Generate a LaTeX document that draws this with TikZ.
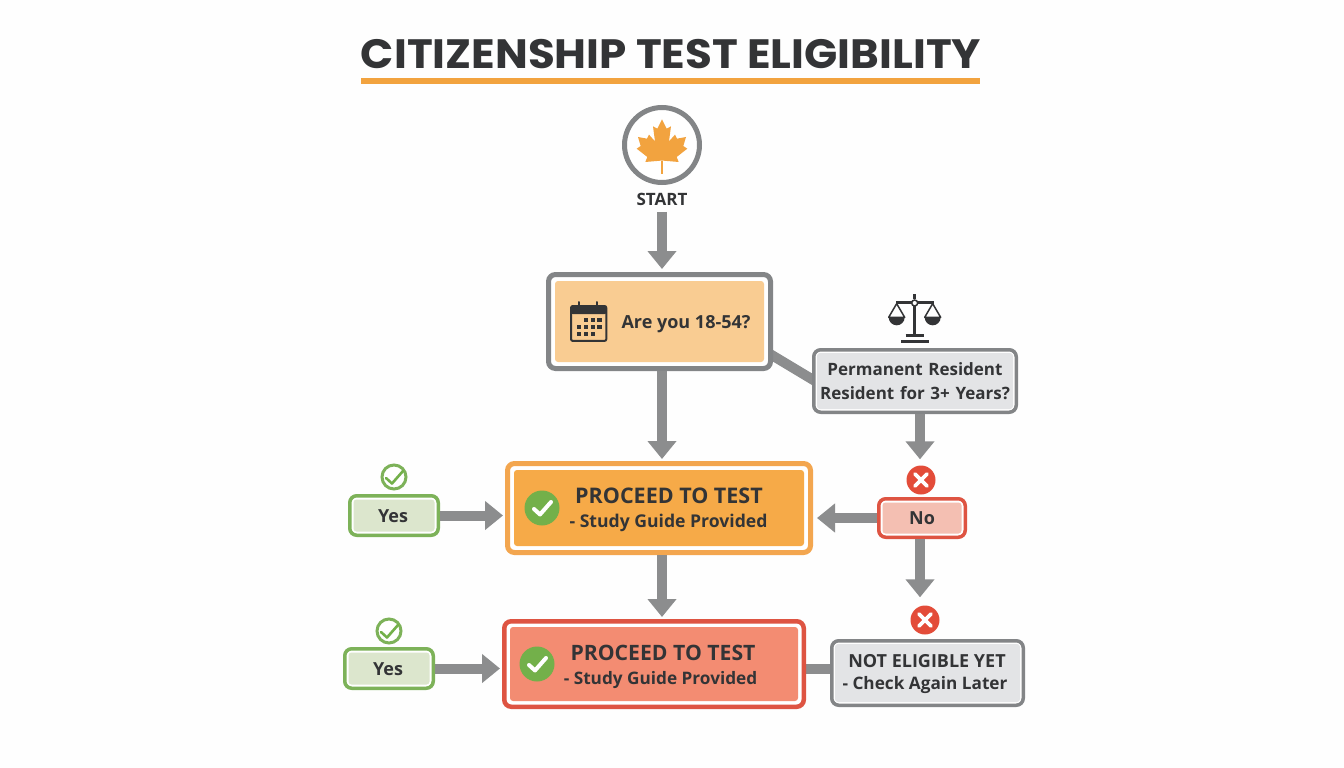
\documentclass[tikz,border=0pt]{standalone}
\usepackage{fontspec}
\setmainfont{Open Sans}
\newfontfamily\titlefont{Poppins}
\usetikzlibrary{arrows.meta,calc,backgrounds}
\definecolor{inkc}{HTML}{333436}
\definecolor{grayb}{HTML}{838587}
\definecolor{arrowc}{HTML}{8C8D8E}
\definecolor{orangec}{HTML}{F2A33F}
\definecolor{orangeb}{HTML}{F3A64F}
\definecolor{orangef}{HTML}{F6AA48}
\definecolor{paleor}{HTML}{F9CC92}
\definecolor{redb}{HTML}{DE5442}
\definecolor{redf}{HTML}{F38C72}
\definecolor{redc}{HTML}{E34C39}
\definecolor{palered}{HTML}{F4BFB2}
\definecolor{greenb}{HTML}{7DB259}
\definecolor{greenc}{HTML}{73B04A}
\definecolor{palegr}{HTML}{DCE6CD}
\definecolor{palegy}{HTML}{E3E4E6}
\tikzset{
  outerbox/.style={draw,fill=white,rounded corners=7pt,inner sep=0pt},
  innerbox/.style={rounded corners=3pt,inner sep=0pt},
  txt/.style={text=inkc,font=\bfseries\fontsize{#1}{#1}\selectfont,inner sep=0pt,align=center},
  conn/.style={draw=arrowc,line width=10pt,-{Triangle[length=18pt,width=28pt]}},
  plainconn/.style={draw=arrowc,line width=10pt},
  badge/.style={circle,inner sep=0pt,minimum size=#1},
}
% name x1 y1 x2 y2 linewidth inset border fill
\newcommand{\dbox}[9]{%
  \pgfmathsetmacro{\bw}{#4-#2-#6}\pgfmathsetmacro{\bh}{#5-#3-#6}%
  \pgfmathsetmacro{\biw}{#4-#2-2*#7}\pgfmathsetmacro{\bih}{#5-#3-2*#7}%
  \node[outerbox,draw=#8,line width=#6pt,minimum width=\bw pt,minimum height=\bh pt] (#1) at ({(#2+#4)/2},{(#3+#5)/2}) {};
  \node[innerbox,fill=#9,minimum width=\biw pt,minimum height=\bih pt] (#1-in) at (#1.center) {};
}
\newcommand{\checkmk}[3]{\draw[#2,line width=#3pt,line cap=round,line join=round] ($(#1)+(-8,1)$) -- ($(#1)+(-2,6.5)$) -- ($(#1)+(9,-6)$);}
\newcommand{\crossmk}[1]{\draw[white,line width=3.6pt,line cap=round] ($(#1)+(-6,-6)$) -- ($(#1)+(6,6)$) ($(#1)+(6,-6)$) -- ($(#1)+(-6,6)$);}
\begin{document}
\begin{tikzpicture}[x=1pt,y=-1pt]
\useasboundingbox (0,0) rectangle (1344,768);
\begin{scope}[on background layer]
\fill[white!99!gray] (0,0) rectangle (1344,768);
\end{scope}
% title
\node[font=\titlefont\bfseries\fontsize{41}{44}\selectfont,text=inkc,inner sep=0pt] (title) at (671,54) {\scalebox{1.064}[1]{CITIZENSHIP TEST ELIGIBILITY}};
\coordinate (ruleL) at (361,81); \coordinate (ruleR) at (980,81);
\draw[orangec,line width=5pt] (ruleL) -- (ruleR);
% start
\node[circle,draw=grayb,fill=white,line width=5pt,minimum size=75pt,inner sep=0pt] (start) at (662,145) {};
\begin{scope}[shift={(630,112)},x=0.3333pt,y=-0.3333pt]
\fill[orangec] (96,22)--(110,50)--(123,43)--(117,88)--(135,68)--(141,80)--(168,75)--(160,102)--(172,110)--(140,135)--(146,150)--(100,146)--(92,146)--(46,150)--(52,135)--(20,110)--(32,102)--(24,75)--(51,80)--(57,68)--(75,88)--(69,43)--(82,50)--cycle;
\draw[orangec,line width=1.5pt] (96,146)--(96,186);
\end{scope}
\node[txt=17] (startlbl) at (662,199.5) {START};
\coordinate (spine) at (662,400);
% boxes
\dbox{q1}{546}{272}{773}{371}{5}{9}{grayb}{paleor}
\dbox{q2}{812}{348}{1018}{414}{3.5}{5}{grayb}{palegy}
\dbox{p1}{505}{461}{813}{555}{5}{9}{orangeb}{orangef}
\dbox{p2}{502}{619}{806}{709}{4.5}{8}{redb}{redf}
\dbox{y1}{348}{494}{440}{537}{3.5}{5.5}{greenb}{palegr}
\dbox{y2}{343}{647}{435}{690}{3.5}{5.5}{greenb}{palegr}
\dbox{no}{877}{497}{967}{539}{3.5}{5.5}{redb}{palered}
\dbox{ne}{830}{639}{1025}{707}{3.5}{5}{grayb}{palegy}
% texts
\node[txt=18] (q1t) at (686,324) {Are you 18-54?};
\node[txt=17,text width=200pt] (q2t) at (915,381) {Permanent Resident\\[7pt]Resident for 3+ Years?};
\node[txt=21.5] (p1a) at (669,495.5) {PROCEED TO TEST};
\node[txt=17.6] (p1b) at (668.5,523) {- Study Guide Provided};
\node[txt=21.2] (p2a) at (663,652.5) {PROCEED TO TEST};
\node[txt=17.2] (p2b) at (660.5,680) {- Study Guide Provided};
\node[txt=18] (y1t) at (393,516) {Yes};
\node[txt=18] (y2t) at (388,669) {Yes};
\node[txt=18] (not) at (922,518) {No};
\node[txt=18] (ne1) at (927,661) {NOT ELIGIBLE YET};
\node[txt=17.2] (ne2) at (925,685.5) {- Check Again Later};
% badges
\node[badge=24pt,draw=greenb,fill=white,line width=3pt] (cy1) at (394,477) {};
\checkmk{cy1}{greenc}{2.6}
\node[badge=24pt,draw=greenb,fill=white,line width=3pt] (cy2) at (389,631) {};
\checkmk{cy2}{greenc}{2.6}
\node[badge=35pt,fill=greenc] (cp1) at (542,508) {};
\checkmk{cp1}{white}{4}
\node[badge=35pt,fill=greenc] (cp2) at (537,664) {};
\checkmk{cp2}{white}{4}
\node[badge=29pt,fill=redc] (x1) at (921,480) {};
\crossmk{x1}
\node[badge=29pt,fill=redc] (x2) at (925,620) {};
\crossmk{x2}
% calendar
\begin{scope}[shift={(562,296)},x=0.3333pt,y=-0.3333pt]
\draw[inkc,line width=2pt,rounded corners=2pt] (27,30) rectangle (133,135);
\fill[inkc,rounded corners=2pt] (26,28) rectangle (134,54);
\draw[inkc,line width=2pt,line cap=round] (52,18)--(52,34) (106,18)--(106,34);
\foreach \px/\py in {66/65,86/65,106/65,44/87,66/87,86/87,106/87,44/108,66/108,86/108}
  \fill[inkc] (\px,\py) rectangle +(13,12);
\end{scope}
% scales
\begin{scope}[shift={(884,292)},x=0.3333pt,y=-0.3333pt]
\draw[inkc,line width=3.5pt] (92,35)--(92,128);
\draw[inkc,line width=2.5pt] (36,32)--(150,32);
\draw[inkc,line width=2.5pt] (92,6)--(92,20);
\node[badge=6pt,draw=inkc,fill=white,line width=1.5pt] (pivot) at (92,33) {};
\draw[inkc,line width=1.5pt,line join=round] (14,76)--(38,35)--(62,76)--cycle (122,76)--(146,35)--(170,76)--cycle;
\fill[inkc] (14,76) arc[start angle=180,end angle=0,radius=24] --cycle;
\fill[inkc] (122,76) arc[start angle=180,end angle=0,radius=24] --cycle;
\draw[inkc,line width=2.5pt] (65,130)--(120,130) (52,148)--(134,148);
\end{scope}
% connectors
\draw[conn,shorten <=6pt,shorten >=3pt] (startlbl.south) -- (q1.north -| startlbl.south);
\draw[conn,shorten >=2pt] (q1.south -| spine) -- (p1.north -| spine);
\draw[conn,shorten >=2pt] (p1.south -| spine) -- (p2.north -| spine);
\coordinate (right) at (920,500);
\draw[conn,shorten >=6pt] (q2.south -| right) -- (x1.north -| right);
\draw[conn,shorten >=8pt] (no.south -| right) -- (x2.north -| right);
\draw[conn,shorten >=4pt] (no.west) -- (p1.east |- no.west);
\draw[conn,shorten >=2pt] (y1.east) -- (p1.west |- y1.east);
\draw[conn,shorten >=2pt] (y2.east) -- (p2.west |- y2.east);
\begin{scope}[on background layer]
\coordinate (diagA) at (770,354); \coordinate (diagB) at (815,381);
\draw[plainconn] (diagA) -- (diagB);
\draw[plainconn] (p2.east |- y2.east) -- (ne.west |- y2.east);
\end{scope}
\end{tikzpicture}
\end{document}
